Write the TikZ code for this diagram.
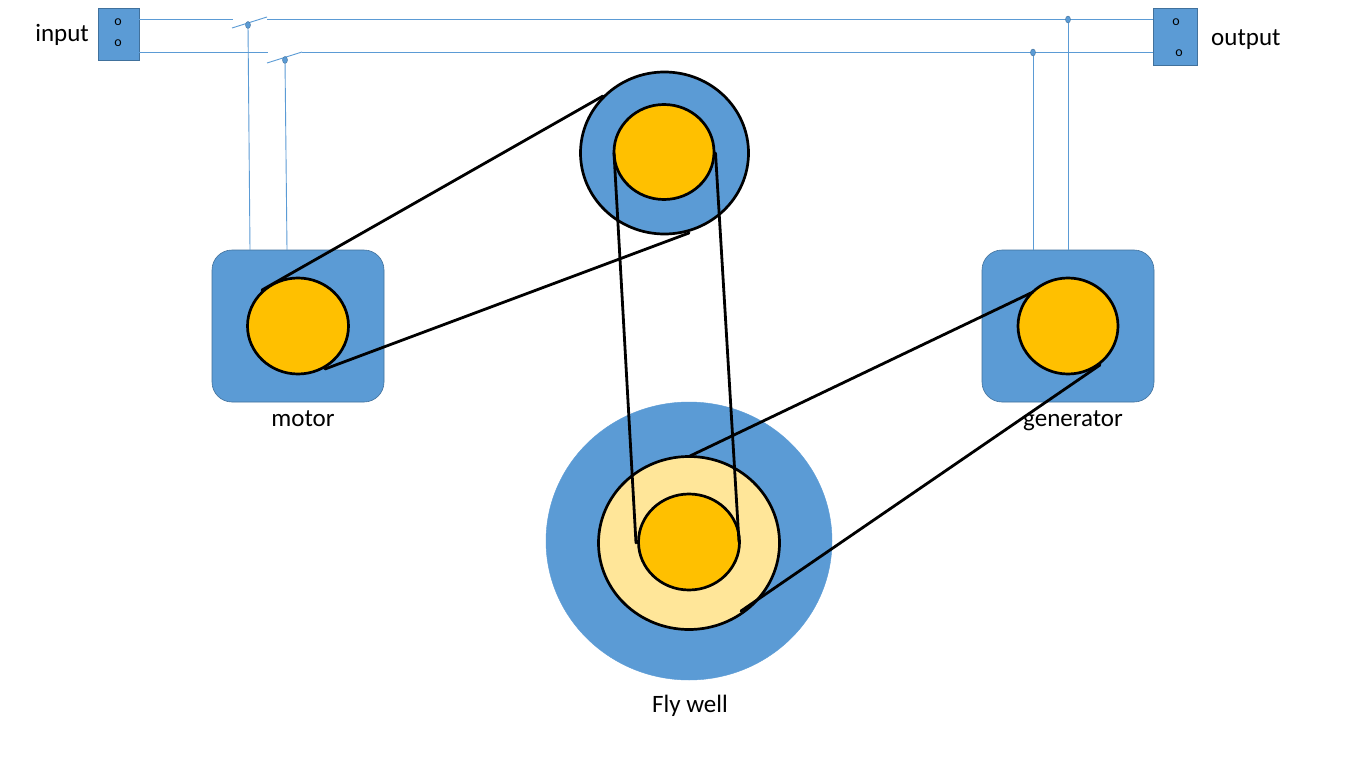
\documentclass[tikz,border=0pt]{standalone}
\usepackage{fontspec}
\setmainfont{Carlito}
\usetikzlibrary{shapes.geometric}
\definecolor{boxblue}{HTML}{5B9BD5}
\definecolor{edgeblue}{HTML}{41719C}
\definecolor{gold}{HTML}{FFC000}
\definecolor{pale}{HTML}{FFE699}
\begin{document}
\begin{tikzpicture}[x=1pt,y=-1pt,
  wire/.style={draw=boxblue, line width=0.9pt},
  belt/.style={draw=black, line width=2.8pt, line cap=round},
  termbox/.style={rectangle, draw=edgeblue, fill=boxblue, line width=0.8pt, inner sep=0},
  machine/.style={rectangle, rounded corners=20pt, draw=edgeblue, fill=boxblue, line width=0.6pt, minimum width=172pt, minimum height=152pt, inner sep=0},
  disc/.style={ellipse, draw=black, line width=2.7pt, inner sep=0},
  wdot/.style={ellipse, fill=boxblue, draw=edgeblue, line width=0.4pt, minimum width=5pt, minimum height=7pt, inner sep=0},
  lbl/.style={font=\fontsize{25}{30}\selectfont, inner sep=0},
  tiny/.style={font=\fontsize{14}{16}\selectfont, inner sep=0}]
\useasboundingbox (0,0) rectangle (1366,768);
\fill[white] (0,0) rectangle (1366,768);

% flywheel
\node[ellipse, fill=boxblue, draw=boxblue, minimum width=286pt, minimum height=278pt, inner sep=0] (flyout) at (689,541) {};
\node[disc, fill=pale, minimum width=181pt, minimum height=173pt] (flymid) at (689,543) {};
\node[disc, fill=gold, minimum width=101pt, minimum height=96pt] (flyin) at (689,542) {};
\node[lbl] (flylbl) at (690,706) {Fly well};

% top pulley
\node[disc, fill=boxblue, minimum width=168pt, minimum height=162pt] (topout) at (664.5,153) {};
\node[disc, fill=gold, minimum width=100pt, minimum height=95pt] (topin) at (664,152) {};

% motor
\node[machine] (motor) at (298,326) {};
\node[disc, fill=gold, minimum width=101pt, minimum height=96pt] (motorp) at (298,326) {};
\node[lbl] (motorlbl) at (303,419) {motor};

% generator
\node[machine] (gen) at (1068,326) {};
\node[disc, fill=gold, minimum width=100pt, minimum height=96pt] (genp) at (1068,326) {};
\node[lbl] (genlbl) at (1073,421) {generator};

% terminal boxes
\node[termbox, minimum width=41pt, minimum height=52pt] (inbox) at (118.5,34) {};
\node[tiny] (in1) at (118,22) {o};
\node[tiny] (in2) at (118,43) {o};
\node[lbl, anchor=east] (inlbl) at (89,35) {input};
\node[termbox, minimum width=44pt, minimum height=57pt] (outbox) at (1175,36.5) {};
\node[tiny] (out1) at (1176,22) {o};
\node[tiny] (out2) at (1179,53) {o};
\node[lbl, anchor=west] (outlbl) at (1211,40) {output};

% wiring coordinates
\coordinate (ya) at (0,19);
\coordinate (yb) at (0,52);
\coordinate (s1l) at (233,19);
\coordinate (s1a) at (232,28);
\coordinate (s1b) at (267,17);
\coordinate (s1r) at (267,19);
\coordinate (s2l) at (268,52);
\coordinate (s2a) at (267,63);
\coordinate (s2b) at (302,52);
\coordinate (m1) at (250,250);
\coordinate (m2) at (287,250);
\coordinate (g1) at (1033,250);
\coordinate (g2) at (1068,250);

\draw[wire] (inbox.east |- ya) -- (s1l);
\draw[wire] (s1a) -- (s1b);
\draw[wire] (s1r) -- (outbox.west |- ya);
\draw[wire] (inbox.east |- yb) -- (s2l);
\draw[wire] (s2a) -- (s2b);
\draw[wire] (s2b) -- (outbox.west |- yb);

\node[wdot] (d1) at (248,25) {};
\node[wdot] (d2) at (285,60) {};
\node[wdot] (d3) at (1068,19.5) {};
\node[wdot] (d4) at (1033,52.5) {};
\draw[wire] (d1) -- (m1);
\draw[wire] (d2) -- (m2);
\draw[wire] (d3) -- (g2);
\draw[wire] (d4) -- (g1);

% belts
\coordinate (b1a) at (262,290);
\coordinate (b1b) at (603,96);
\coordinate (b2a) at (325,369);
\coordinate (b2b) at (689,233);
\coordinate (b3a) at (614,153);
\coordinate (b3b) at (636,543);
\coordinate (b4a) at (715.5,153);
\coordinate (b4b) at (739,542);
\coordinate (b5a) at (690,456);
\coordinate (b5b) at (1033,292);
\coordinate (b6a) at (741,611);
\coordinate (b6b) at (1100,365);
\draw[belt] (b1a) -- (b1b);
\draw[belt] (b2a) -- (b2b);
\draw[belt] (b3a) -- (b3b);
\draw[belt] (b4a) -- (b4b);
\draw[belt] (b5a) -- (b5b);
\draw[belt] (b6a) -- (b6b);
\end{tikzpicture}
\end{document}
